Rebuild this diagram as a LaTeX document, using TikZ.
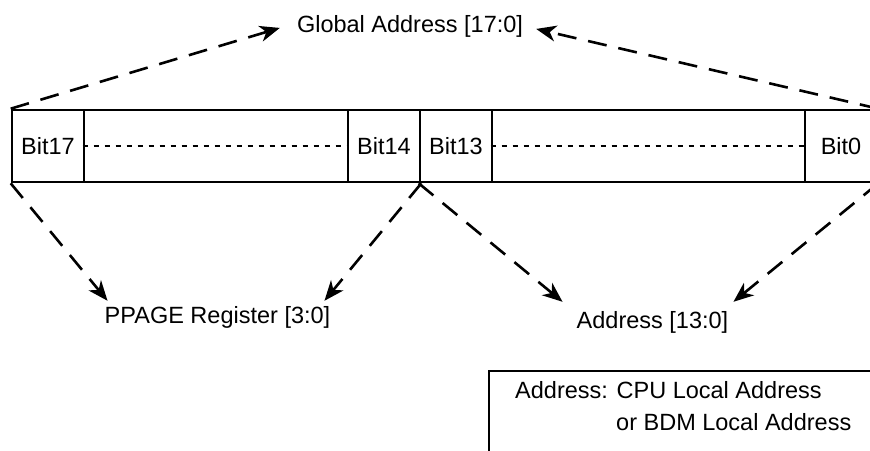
\documentclass[tikz,border=0pt]{standalone}
\usepackage{fontspec}
\setmainfont{Liberation Sans}
\usetikzlibrary{arrows.meta}
\begin{document}
\begin{tikzpicture}[x=1pt,y=-1pt,
  font=\fontsize{23.5}{28}\selectfont,
  cell/.style={draw, line width=2.6pt, minimum height=72pt, inner sep=0pt, anchor=center},
  lbl/.style={inner sep=0pt, anchor=base},
  dotline/.style={line width=2.6pt, dash pattern=on 5pt off 6pt},
  arr/.style={line width=2.6pt, dash pattern=on 19pt off 12pt,
    -{Stealth[length=20pt,width=16pt,inset=6pt]}},
  legendbox/.style={draw, line width=2.2pt, anchor=north west, minimum width=400pt, minimum height=100pt, inner sep=0pt}]
\useasboundingbox (0,0) rectangle (870,450);
\clip (0,0) rectangle (870,450);

% register cells
\node[cell, minimum width=264pt] (d1) at (216,146) {};
\node[cell, minimum width=313pt] (d0) at (648.5,146) {};
\node[cell, minimum width=72pt] (b17) at (48,146) {Bit17};
\node[cell, minimum width=72pt] (b14) at (384,146) {Bit14};
\node[cell, minimum width=72pt] (b13) at (456,146) {Bit13};
\node[cell, minimum width=72pt] (b0) at (841,146) {Bit0};
\draw[dotline] (d1.west) -- (d1.east);
\draw[dotline] (d0.west) -- (d0.east);

% labels
\node[lbl] (G) at (410,32) {Global Address [17:0]};
\node[lbl] (P) at (217.5,323) {PPAGE Register [3:0]};
\node[lbl] (A) at (652.5,328) {Address [13:0]};

% arrows
\draw[arr] (b17.north west) -- ([xshift=-17pt,yshift=-2pt]G.west);
\draw[arr] (b0.north east) -- ([xshift=13pt,yshift=-3pt]G.east);
\draw[arr] (b17.south west) -- ([xshift=3pt,yshift=5pt]P.north west);
\draw[arr] (b14.south east) -- ([xshift=-6pt,yshift=5pt]P.north east);
\draw[arr] (b13.south west) -- ([xshift=-14pt,yshift=9pt]A.north west);
\draw[arr] (b0.south east) -- ([xshift=5pt,yshift=9pt]A.north east);

% legend
\node[legendbox] (legend) at (488,370) {};
\node[lbl, anchor=base west] (L1) at (515,398) {Address: CPU Local Address};
\node[lbl, anchor=base west] (L2) at (616,430) {or BDM Local Address};
\end{tikzpicture}
\end{document}
